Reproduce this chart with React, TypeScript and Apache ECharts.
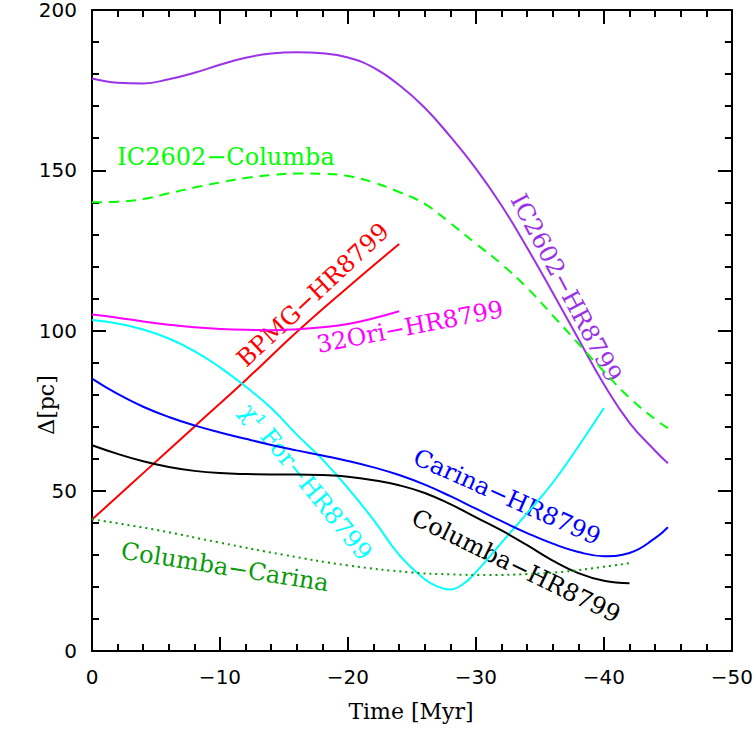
import React, { useEffect, useRef } from "react";
import * as echarts from "echarts";

// Tick labels
const xTickLabels = ["0", "−10", "−20", "−30", "−40", "−50"];

// IC2602–HR8799 (purple)
const icHrT = [0, -2, -4, -6, -8, -10, -12, -14, -16, -18, -20, -22, -24, -26, -28, -30, -32, -34, -36, -38, -40, -42, -44, -45];
const icHrV = [178.6, 177.3, 177.1, 178.4, 180.4, 182.9, 185.1, 186.4, 186.8, 186.5, 185.2, 182.0, 176.6, 169.5, 160.5, 150.5, 139.0, 125.8, 111.8, 97.4, 83.2, 71.2, 62.5, 58.6];

// IC2602–Columba (green dashed)
const icColT = [0, -2, -4, -6, -8, -10, -12, -14, -16, -18, -20, -22, -24, -26, -28, -30, -32, -34, -36, -38, -40, -42, -44, -45];
const icColV = [140, 140.2, 141, 142.8, 144.6, 146.2, 147.6, 148.5, 149, 148.9, 148.2, 146.2, 143.2, 139.5, 133.5, 127.1, 120.7, 113.3, 104.7, 95.9, 87.2, 79, 72.3, 69.5];

// BPMG–HR8799 (red)
const bpmgT = [0, -4, -8, -12, -16, -20, -24];
const bpmgV = [41, 55.5, 70, 84.5, 99.5, 113.5, 127];

// 32Ori–HR8799 (magenta)
const oriT = [0, -2, -4, -6, -8, -10, -12, -14, -16, -18, -20, -22, -24];
const oriV = [105, 104, 102.8, 101.8, 101, 100.5, 100.2, 100.1, 100.4, 101, 102, 103.8, 106];

// chi1For–HR8799 (cyan)
const chiT = [0, -2, -4, -6, -8, -10, -12, -14, -16, -18, -20, -22, -24, -26, -27, -28, -29, -30, -32, -34, -36, -38, -40];
const chiV = [103.3, 102.2, 100.3, 97.5, 93.6, 88.5, 82.5, 75.8, 67.5, 59.8, 50.8, 40.9, 30.0, 22.4, 20.1, 19.2, 20.9, 24.6, 33.8, 43, 52.5, 63.8, 75.8];

// Carina–HR8799 (blue)
const carT = [0, -2, -4, -6, -8, -10, -12, -14, -16, -18, -20, -22, -24, -26, -28, -30, -32, -34, -36, -38, -40, -42, -44, -45];
const carV = [85, 80.2, 76.2, 73.0, 70.4, 68.2, 66.2, 64.3, 62.6, 61.0, 59.3, 57.3, 54.9, 51.9, 48.3, 44.4, 40.5, 36.8, 33.5, 30.9, 29.6, 30.6, 35.2, 38.6];

// Columba–HR8799 (black)
const colHrT = [0, -2, -4, -6, -8, -10, -12, -14, -16, -18, -20, -22, -24, -26, -28, -30, -32, -34, -36, -38, -40, -42];
const colHrV = [64.2, 61.5, 59.2, 57.4, 56.2, 55.5, 55.2, 55.1, 55.1, 54.9, 54.4, 53.3, 51.7, 49.3, 45.8, 41.7, 37.6, 33.0, 28.2, 24.3, 21.9, 21.1];

// Columba–Carina (dark green dotted)
const colCarT = [0, -5, -10, -15, -20, -25, -28, -31, -34, -37, -40, -42];
const colCarV = [41.1, 37.8, 33.8, 30, 26.7, 24.5, 23.9, 23.7, 24, 24.8, 26.3, 27.4];

const zip = (t: number[], v: number[]) => t.map((x, i) => [x, v[i]]);

const SERIF = "'DejaVu Serif', 'Liberation Serif', serif";
const SANS = "'DejaVu Sans', 'Liberation Sans', sans-serif";

function mkLine(name: string, t: number[], v: number[], color: string, type: any = "solid") {
  return {
    name,
    type: "line",
    data: zip(t, v),
    showSymbol: false,
    smooth: 0.45,
    lineStyle: { color, width: 2, type },
    itemStyle: { color },
    xAxisIndex: 0,
    yAxisIndex: 0,
    silent: true,
  };
}

function label(text: string, x: number, y: number, deg: number, color: string, size = 24) {
  return {
    type: "text",
    x,
    y,
    rotation: (deg * Math.PI) / 180,
    style: {
      text,
      fill: color,
      font: `${size}px ${SERIF}`,
      align: "center",
      verticalAlign: "middle",
    },
    silent: true,
  };
}

export default function App() {
  const ref = useRef<HTMLDivElement>(null);
  useEffect(() => {
    if (!ref.current) return;
    const chart = echarts.init(ref.current, null, { renderer: "svg" });
    const axisLine = { show: true, onZero: false, lineStyle: { color: "#000", width: 2 } };
    const xCommon = {
      type: "value",
      min: -50,
      max: 0,
      interval: 10,
      inverse: true,
      axisLine,
      axisTick: { show: true, inside: true, length: 14, lineStyle: { color: "#000", width: 2 } },
      minorTick: { show: true, splitNumber: 5, length: 7, lineStyle: { color: "#000", width: 2 } },
      splitLine: { show: false },
      minorSplitLine: { show: false },
    };
    const yCommon = {
      type: "value",
      min: 0,
      max: 200,
      interval: 50,
      axisLine,
      axisTick: { show: true, inside: true, length: 14, lineStyle: { color: "#000", width: 2 } },
      minorTick: { show: true, splitNumber: 5, length: 7, lineStyle: { color: "#000", width: 2 } },
      splitLine: { show: false },
      minorSplitLine: { show: false },
    };
    chart.setOption({
      animation: false,
      backgroundColor: "#fff",
      grid: { left: 92, right: 24, top: 10, bottom: 79, containLabel: false },
      xAxis: [
        {
          ...xCommon,
          position: "bottom",
          axisLabel: {
            show: true,
            margin: 16,
            color: "#000",
            fontFamily: SANS,
            fontSize: 20,
            formatter: (v: number) => xTickLabels[Math.round(-v / 10)] ?? String(v),
          },
        },
        { ...xCommon, position: "top", axisLabel: { show: false } },
      ],
      yAxis: [
        {
          ...yCommon,
          position: "left",
          axisLabel: { show: true, margin: 15, color: "#000", fontFamily: SANS, fontSize: 20 },
        },
        { ...yCommon, position: "right", axisLabel: { show: false } },
      ],
      series: [
        mkLine("IC2602-HR8799", icHrT, icHrV, "#9a32e6"),
        mkLine("IC2602-Columba", icColT, icColV, "#00ff00", [10, 7]),
        mkLine("BPMG-HR8799", bpmgT, bpmgV, "#ff0000"),
        mkLine("32Ori-HR8799", oriT, oriV, "#ff00ff"),
        mkLine("χ1For-HR8799", chiT, chiV, "#00ffff"),
        mkLine("Carina-HR8799", carT, carV, "#0000ff"),
        mkLine("Columba-HR8799", colHrT, colHrV, "#000000"),
        mkLine("Columba-Carina", colCarT, colCarV, "#0a9a0a", [2, 4]),
      ],
      graphic: [
        label("IC2602−Columba", 226, 157, 0, "#00ff00"),
        label("IC2602−HR8799", 566, 288, -62, "#9a32e6"),
        label("BPMG−HR8799", 313, 295, 43, "#ff0000"),
        label("32Ori−HR8799", 410, 327, 11, "#ff00ff"),
        label("χ¹ For−HR8799", 306, 482, -51, "#00ffff"),
        label("Carina−HR8799", 507, 497, -24, "#0000ff"),
        label("Columba−HR8799", 516, 566, -26, "#000000"),
        label("Columba−Carina", 225, 567, -9, "#0a9a0a"),
        label("Time [Myr]", 411, 711, 0, "#000", 22),
        label("Δ[pc]", 46, 405, 90, "#000", 22),
      ],
    });
    return () => chart.dispose();
  }, []);
  return <div ref={ref} style={{ width: 756, height: 730, position: "absolute", left: 0, top: 0 }} />;
}
